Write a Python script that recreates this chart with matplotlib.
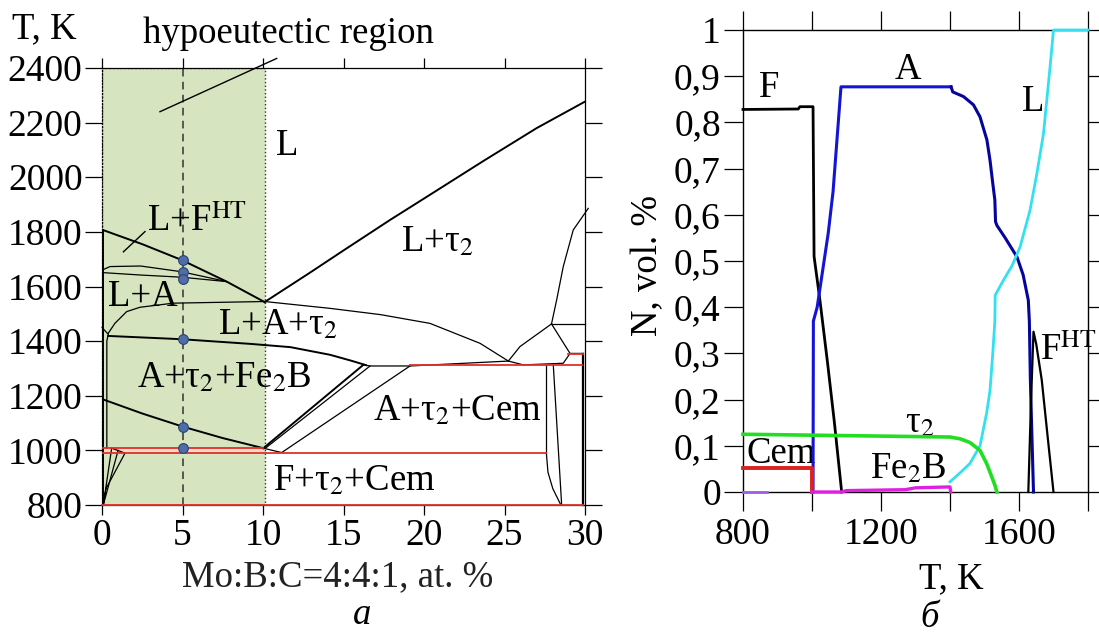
import numpy as np
import matplotlib.pyplot as plt
from matplotlib.patches import Rectangle

plt.rcParams['font.family'] = ['Liberation Serif', 'DejaVu Serif']
plt.rcParams['mathtext.fontset'] = 'stix'
FS = 26.5
TFS = 27

# ---------------- left panel: isopleth, Mo:B:C=4:4:1 ----------------
x_ticks_a = [0, 5, 10, 15, 20, 25, 30]
T_ticks_a = [800, 1000, 1200, 1400, 1600, 1800, 2000, 2200, 2400]
hypo_lim = 10.15
alloy_x = 5
alloy_T = [1697, 1654, 1628, 1406, 1087, 1008]

# phase boundaries (at.%, K)
liq_l_x = [0, 2.5, 4.95, 7.74, 10.1]
liq_l_T = [1808, 1755, 1697, 1618, 1543]
liq_r_x = [10.1, 12.9, 15, 17.9, 20, 23.7, 27, 30]
liq_r_T = [1543, 1650, 1732, 1844, 1922, 2060, 2180, 2277]
la_up_x = [0, 0.5, 2.4, 4.95, 7.74]
la_up_T = [1660, 1673, 1675, 1654, 1618]
la_lo_x = [0, 2.4, 4.95, 7.74]
la_lo_T = [1651, 1642, 1634, 1618]
sol_x = [0.39, 0.8, 1.53, 2.36, 4.43, 10.1, 14.16, 17.3, 20.37, 23.48, 25.24]
sol_T = [1429, 1465, 1508, 1524, 1539, 1545, 1520, 1497, 1465, 1392, 1327]
tau_lo_x = [0.39, 4.95, 9.2, 11.7, 14.16, 15.5, 16.4]
tau_lo_T = [1419, 1407, 1390, 1378, 1350, 1328, 1312]
fe2b_lo_x = [0, 2.5, 5.01, 7.5, 10.02]
fe2b_lo_T = [1188, 1135, 1087, 1045, 1008]
wedge1_x = [10.02, 16.23]
wedge1_T = [1008, 1313]
wedge2_x = [10.15, 16.65]
wedge2_T = [1008, 1309]
cem_x = [10.02, 11.16, 19.13]
cem_T = [1008, 992, 1309]
mid_x = [16.23, 16.65, 19.13, 25.24, 26.17, 28.65, 29.07, 29.9]
mid_T = [1313, 1309, 1309, 1327, 1313, 1319, 1355, 1355]
jn_left_x = [25.24, 25.96, 27.92]
jn_left_T = [1327, 1380, 1463]
jn_up_x = [27.92, 28.24, 28.65, 29.27, 30.2]
jn_up_T = [1463, 1551, 1673, 1807, 1886]
jn_right_x = [27.92, 29.07]
jn_right_T = [1463, 1355]
jn_hor_x = [27.92, 30]
jn_hor_T = [1463, 1463]
v1_x = [27.6, 27.6]
v1_T = [1313, 990]
v2_x = [28.03, 28.55]
v2_T = [1313, 800]
v3_x = [27.6, 27.7, 28.0, 28.5]
v3_T = [990, 920, 860, 800]
v4_x = [29.8, 29.8]
v4_T = [1355, 800]
v5_x = [29.9, 29.9]
v5_T = [1355, 800]
edge_x = [0.08, 0.08]
edge_T = [800, 1808]
edge2_x = [0, 0.39, 0.3, 0.3]
edge2_T = [1450, 1425, 1400, 1008]
tri_x = [0.08, 0.6, 1.43, 0.25, 0.08]
tri_T = [800, 1008, 990, 860, 800]
tri2_x = [0.08, 1.0]
tri2_T = [800, 1000]

# red isotherms
red_x = [[0.08, 10.0], [0.08, 27.6], [0, 29.9], [19.1, 29.8], [28.95, 29.9]]
red_T = [[1008, 1008], [990, 990], [800, 800], [1312, 1312], [1354, 1354]]

# ---------------- right panel: phase fractions at 5 at.% ----------------
F_T = [800, 960, 965, 1003, 1006, 1023, 1045, 1065, 1086]
F_N = [0.828, 0.829, 0.834, 0.834, 0.51, 0.415, 0.28, 0.15, 0.0]
A1_T = [1003, 1004, 1015, 1025, 1047, 1061, 1084, 1403]
A1_N = [0.0, 0.37, 0.40, 0.45, 0.56, 0.65, 0.877, 0.877]
A2_T = [1403, 1408, 1439, 1468, 1487, 1507, 1516, 1524, 1530, 1532, 1536,
        1560, 1594, 1612, 1627, 1630, 1633, 1642]
A2_N = [0.877, 0.866, 0.856, 0.838, 0.812, 0.762, 0.718, 0.668, 0.632, 0.585,
        0.577, 0.55, 0.509, 0.47, 0.415, 0.37, 0.24, 0.0]
L_T = [1400, 1430, 1458, 1487, 1506, 1516, 1524, 1530, 1531, 1555, 1580,
       1603, 1632, 1652, 1671, 1690, 1700, 1800]
L_N = [0.022, 0.042, 0.062, 0.1, 0.17, 0.22, 0.3, 0.37, 0.426, 0.4585, 0.49,
       0.53, 0.61, 0.69, 0.776, 0.92, 1.0, 1.0]
tau_T = [800, 1000, 1200, 1300, 1400, 1430, 1458, 1487, 1506, 1520, 1530, 1536]
tau_N = [0.125, 0.123, 0.121, 0.12, 0.119, 0.115, 0.107, 0.09, 0.062, 0.035,
         0.015, 0.0]
cem_T_b = [800, 1000, 1000]
cem_N_b = [0.053, 0.053, 0.0]
fe2b_T = [1000, 1086, 1100, 1270, 1300, 1400, 1402]
fe2b_N = [0.0, 0.0, 0.003, 0.005, 0.009, 0.011, 0.0]
fe2b0_T = [800, 870]
fe2b0_N = [0.0, 0.0]
FHT_T = [1627, 1635, 1642, 1650, 1666, 1683, 1700]
FHT_N = [0.0, 0.2, 0.347, 0.32, 0.242, 0.12, 0.0]
N_ticks = [0, 0.1, 0.2, 0.3, 0.4, 0.5, 0.6, 0.7, 0.8, 0.9, 1]
N_labels = ['0', '0,1', '0,2', '0,3', '0,4', '0,5', '0,6', '0,7', '0,8', '0,9', '1']
Tb_ticks = [800, 1000, 1200, 1400, 1600, 1800]
Tb_labels = ['800', '', '1200', '', '1600', '']

W, H = 1099, 636
fig = plt.figure(figsize=(W / 100, H / 100), dpi=100)

def fx(px):
    return px / W

def fy(py):
    return 1 - py / H

# ---- panel a ----
ax = fig.add_axes([fx(102), fy(505), fx(585) - fx(102), fy(68) - fy(505)])
ax.set_xlim(0, 30)
ax.set_ylim(800, 2400)
ax.add_patch(Rectangle((0, 800), hypo_lim, 1600, facecolor='#d6e4bf',
                       edgecolor='#333333', linestyle=':', linewidth=1.0, zorder=0))
ax.fill_between(red_x[0], 990, 1008, color='#f6dcc4', zorder=1, linewidth=0)
ax.plot([alloy_x, alloy_x], [800, 2400], color='#333333', lw=1.1,
        dashes=(5, 3.5), zorder=2)

thin = dict(color='black', lw=0.9, zorder=3)
mid = dict(color='black', lw=1.4, zorder=3)
ax.plot(liq_l_x, liq_l_T, **mid)
ax.plot(liq_r_x, liq_r_T, **mid)
ax.plot(la_up_x, la_up_T, **thin)
ax.plot(la_lo_x, la_lo_T, **thin)
ax.plot(sol_x, sol_T, **thin)
ax.plot(tau_lo_x, tau_lo_T, **mid)
ax.plot(fe2b_lo_x, fe2b_lo_T, **mid)
ax.plot(wedge1_x, wedge1_T, **mid)
ax.plot(wedge2_x, wedge2_T, **thin)
ax.plot(cem_x, cem_T, **thin)
ax.plot(mid_x, mid_T, **thin)
for xs, ts in [(jn_left_x, jn_left_T), (jn_up_x, jn_up_T), (jn_right_x, jn_right_T),
               (jn_hor_x, jn_hor_T), (v1_x, v1_T), (v2_x, v2_T), (v3_x, v3_T),
               (v4_x, v4_T), (v5_x, v5_T), (edge2_x, edge2_T), (tri_x, tri_T),
               (tri2_x, tri2_T)]:
    ax.plot(xs, ts, clip_on=False, **thin)
ax.plot(edge_x, edge_T, color='black', lw=1.4, zorder=3)
for xs, ts in zip(red_x, red_T):
    ax.plot(xs, ts, color='#e0302a', lw=1.3, zorder=4, clip_on=False)

ax.plot([alloy_x] * len(alloy_T), alloy_T, 'o', ms=7, mfc='#4f6ea8',
        mec='#2d4170', mew=0.8, zorder=5)

# leader lines
ax.plot([3.6, 10.85], [2240, 2435], color='black', lw=1.0, clip_on=False, zorder=3)
ax.plot([1.33, 2.67], [1727, 1801], color='black', lw=1.0, zorder=3)

ax.text(11.5, 2114, 'L', fontsize=FS, ha='center', va='center')
ax.text(18.6, 1763, 'L+τ$_2$', fontsize=FS, ha='left', va='center')
ax.text(2.78, 1836, 'L+F$^{\\rm HT}$', fontsize=FS, ha='left', va='center')
ax.text(0.4, 1562, 'L+A', fontsize=FS, ha='left', va='center')
ax.text(7.2, 1459, 'L+A+τ$_2$', fontsize=FS, ha='left', va='center')
ax.text(2.17, 1265, 'A+τ$_2$+Fe$_2$B', fontsize=FS, ha='left', va='center')
ax.text(16.83, 1144, 'A+τ$_2$+Cem', fontsize=FS, ha='left', va='center')
ax.text(10.62, 888, 'F+τ$_2$+Cem', fontsize=FS, ha='left', va='center')

ax.set_xticks(x_ticks_a)
ax.set_yticks(T_ticks_a)
ax.tick_params(axis='both', direction='out', top=True, right=True,
               labelsize=TFS, width=0.9, pad=2)
ax.tick_params(axis='x', length=7, pad=3)
ax.tick_params(axis='y', length=12)
for s in ax.spines.values():
    s.set_linewidth(0.9)
ax.spines['left'].set_linestyle(':')
ax.set_xlabel('Mo:B:C=4:4:1, at. %', fontsize=FS, color='#222222')
ax.xaxis.set_label_coords(0.488, -0.126)

fig.text(fx(12), fy(38), 'T, K', fontsize=FS, ha='left', va='baseline')
fig.text(fx(143), fy(43), 'hypoeutectic region', fontsize=FS, ha='left',
         va='baseline')
fig.text(fx(362), fy(615), 'a', fontsize=FS, style='italic', ha='center',
         va='center')

# ---- panel b ----
bx = fig.add_axes([fx(743), fy(492), fx(1088) - fx(743), fy(30) - fy(492)])
bx.set_xlim(800, 1800)
bx.set_ylim(0, 1)
bx.plot(fe2b0_T, fe2b0_N, color='#a060e0', lw=2, clip_on=False, zorder=3)
bx.plot(F_T, F_N, color='black', lw=2, clip_on=False, zorder=4)
bx.plot(A1_T, A1_N, color='#1414d4', lw=2.2, clip_on=False, zorder=4)
bx.plot(A2_T, A2_N, color='#05059c', lw=2.2, clip_on=False, zorder=4)
bx.plot(L_T, L_N, color='#33e0f0', lw=2, clip_on=False, zorder=4)
bx.plot(tau_T, tau_N, color='#22dd22', lw=2.6, clip_on=False, zorder=4)
bx.plot(cem_T_b, cem_N_b, color='#dd2020', lw=2.8, clip_on=False, zorder=4)
bx.plot(fe2b_T, fe2b_N, color='#e020e0', lw=2.4, clip_on=False, zorder=5)
bx.plot(FHT_T, FHT_N, color='black', lw=1.6, clip_on=False, zorder=4)

bx.text(877, 0.874, 'F', fontsize=FS, ha='center', va='center')
bx.text(1278, 0.913, 'A', fontsize=FS, ha='center', va='center')
bx.text(1641, 0.844, 'L', fontsize=FS, ha='center', va='center')
bx.text(1662, 0.307, 'F$^{\\rm HT}$', fontsize=FS, ha='left', va='center')
bx.text(1269, 0.149, 'τ$_2$', fontsize=FS, ha='left', va='center')
bx.text(811, 0.083, 'Cem', fontsize=FS, ha='left', va='center')
bx.text(1168, 0.0507, 'Fe$_2$B', fontsize=FS, ha='left', va='center')

bx.set_xticks(Tb_ticks, Tb_labels)
bx.set_yticks(N_ticks, N_labels)
bx.tick_params(axis='both', direction='out', top=True, right=True,
               labelsize=TFS, width=0.9)
bx.tick_params(axis='x', length=14, pad=4)
bx.tick_params(axis='y', length=14, pad=2)
for s in bx.spines.values():
    s.set_linewidth(1.0)
bx.set_xlabel('T, K', fontsize=FS)
bx.xaxis.set_label_coords((951 - 743) / (1088 - 743), -0.15)
bx.set_ylabel('N, vol. %', fontsize=FS)
bx.yaxis.set_label_coords((665 - 743) / (1088 - 743), 0.49)
fig.text(fx(930), fy(618), 'б', fontsize=FS, style='italic', ha='center',
         va='center')

fig.savefig('out.png', dpi=100)
